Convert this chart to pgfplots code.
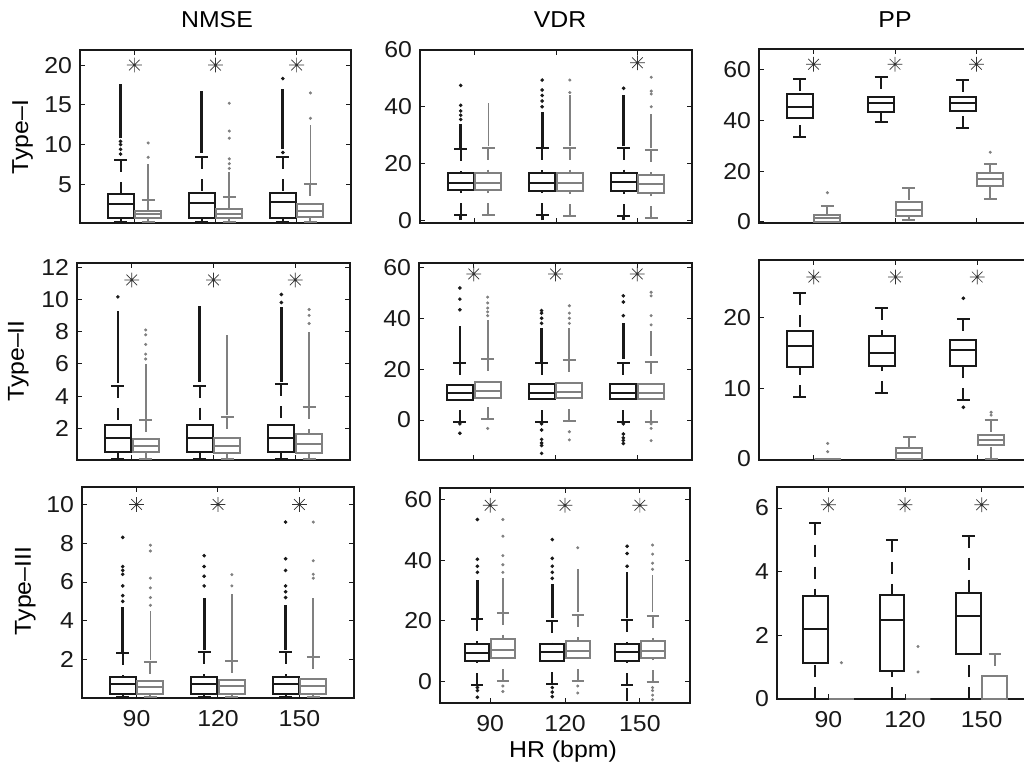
\documentclass[border=0pt]{standalone}
\usepackage{fontspec}
\setmainfont{Liberation Sans}[FakeStretch=1.08]
\usepackage{pgfplots}
\pgfplotsset{compat=1.18}
\usepgfplotslibrary{statistics}

\definecolor{bk}{RGB}{25,25,25}
\definecolor{gr}{RGB}{128,128,128}

% MATLAB style '*' marker: plus and cross together
\pgfdeclareplotmark{ast8}{%
  \pgfpathmoveto{\pgfqpoint{0pt}{-\pgfplotmarksize}}\pgfpathlineto{\pgfqpoint{0pt}{\pgfplotmarksize}}%
  \pgfpathmoveto{\pgfqpoint{-\pgfplotmarksize}{0pt}}\pgfpathlineto{\pgfqpoint{\pgfplotmarksize}{0pt}}%
  \pgfpathmoveto{\pgfqpoint{-0.72\pgfplotmarksize}{-0.72\pgfplotmarksize}}\pgfpathlineto{\pgfqpoint{0.72\pgfplotmarksize}{0.72\pgfplotmarksize}}%
  \pgfpathmoveto{\pgfqpoint{-0.72\pgfplotmarksize}{0.72\pgfplotmarksize}}\pgfpathlineto{\pgfqpoint{0.72\pgfplotmarksize}{-0.72\pgfplotmarksize}}%
  \pgfusepathqstroke}

\pgfplotsset{
  boxplot/draw/lower whisker/.code={%
    \draw[dash pattern=on 6pt off 5pt]
      (boxplot box cs:\pgfplotsboxplotvalue{lower whisker},0.5) --
      (boxplot box cs:\pgfplotsboxplotvalue{lower quartile},0.5);
    \draw[solid]
      (boxplot whisker cs:\pgfplotsboxplotvalue{lower whisker},0) --
      (boxplot whisker cs:\pgfplotsboxplotvalue{lower whisker},1);
  },
  boxplot/draw/upper whisker/.code={%
    \draw[dash pattern=on 6pt off 5pt]
      (boxplot box cs:\pgfplotsboxplotvalue{upper whisker},0.5) --
      (boxplot box cs:\pgfplotsboxplotvalue{upper quartile},0.5);
    \draw[solid]
      (boxplot whisker cs:\pgfplotsboxplotvalue{upper whisker},0) --
      (boxplot whisker cs:\pgfplotsboxplotvalue{upper whisker},1);
  },
  panel/.style={
    scale only axis, anchor=south west,
    xmin=0.33, xmax=3.67, xtick={1,2,3}, xticklabels={},
    tick align=inside, major tick length=2.5pt,
    axis line style={bk, line width=0.6pt},
    every tick/.style={bk, line width=0.5pt},
    tick label style={font=\fontsize{11.5}{13}\selectfont, text=bk},
    xticklabel style={yshift=-2pt},
    /pgf/number format/assume math mode=true,
    boxplot/draw direction=y,
    boxplot/box extend=0.32, boxplot/whisker extend=0.16,
  },
  bo/.style={bk, line width=1.35pt},
  go/.style={gr, line width=0.9pt},
  bd/.style={bk, only marks, mark=*, mark size=0.7pt},
  gd/.style={gr, only marks, mark=*, mark size=0.55pt},
  ast/.style={black!80, only marks, mark=ast8, mark size=3.7pt, mark options={line width=0.35pt}},
}

% \bbox{pos}{lower whisker}{q1}{median}{q3}{upper whisker}
\newcommand{\bbox}[6]{\addplot[bk, line width=1pt, boxplot prepared={draw position=#1,
  lower whisker=#2, lower quartile=#3, median=#4, upper quartile=#5, upper whisker=#6}] coordinates {};}
\newcommand{\gbox}[6]{\addplot[gr, line width=1pt, boxplot prepared={draw position=#1,
  lower whisker=#2, lower quartile=#3, median=#4, upper quartile=#5, upper whisker=#6}] coordinates {};}

\begin{document}
\fontsize{11.5}{13}\selectfont
\begin{tikzpicture}
\useasboundingbox (0,0) rectangle (512pt,383.5pt);

% ---------------- row 1 ----------------
\begin{axis}[panel, at={(40pt,272pt)}, width=135.5pt, height=86.5pt,
  ymin=0.13, ymax=21.9, ytick={5,10,15,20}]
\bbox{0.83}{0.2}{0.7}{2.5}{3.8}{8.05}
\gbox{1.17}{0.2}{0.7}{1.2}{1.7}{3.0}
\bbox{1.83}{0.2}{0.7}{2.7}{3.85}{8.4}
\gbox{2.17}{0.2}{0.7}{1.3}{1.85}{3.35}
\bbox{2.83}{0.2}{0.7}{2.75}{3.85}{8.4}
\gbox{3.17}{0.2}{0.85}{1.6}{2.5}{5.0}
\addplot[bo] coordinates {(0.83,10.8) (0.83,17.6)};
\addplot[bd] coordinates {(0.83,8.8) (0.83,9.4) (0.83,10.0) (0.83,10.4)};
\addplot[go] coordinates {(1.17,3.2) (1.17,7.5)};
\addplot[gd] coordinates {(1.17,8.4) (1.17,10.2)};
\addplot[bo] coordinates {(1.83,9.0) (1.83,16.8)};
\addplot[go] coordinates {(2.17,3.5) (2.17,6.5)};
\addplot[gd] coordinates {(2.17,7.0) (2.17,7.6) (2.17,8.2) (2.17,10.8) (2.17,11.7) (2.17,15.2)};
\addplot[bo] coordinates {(2.83,9.5) (2.83,17.0)};
\addplot[bd] coordinates {(2.83,9.0) (2.83,18.3)};
\addplot[go] coordinates {(3.17,5.2) (3.17,12.5)};
\addplot[gd] coordinates {(3.17,13.3) (3.17,16.5)};
\addplot[ast] coordinates {(1,20) (2,20) (3,20)};
\end{axis}

\begin{axis}[panel, at={(210pt,272pt)}, width=136pt, height=86.5pt,
  ymin=-1, ymax=60, ytick={0,20,40,60}]
\bbox{0.83}{1.8}{10.6}{13.2}{16.5}{25}
\gbox{1.17}{1.8}{10.6}{13.2}{16.7}{25.6}
\bbox{1.83}{1.8}{10.4}{13.2}{16.5}{25.3}
\gbox{2.17}{1.4}{10.4}{13.0}{16.5}{25.6}
\bbox{2.83}{1.4}{10.4}{13.4}{16.5}{25.6}
\gbox{3.17}{0.6}{9.6}{12.7}{15.9}{24.7}
\addplot[bo] coordinates {(0.83,25.5) (0.83,34)};
\addplot[bo] coordinates {(0.83,0) (0.83,1.4)};
\addplot[bd] coordinates {(0.83,35.5) (0.83,37) (0.83,38.5) (0.83,40.5) (0.83,47.5)};
\addplot[go] coordinates {(1.17,26) (1.17,41.2)};
\addplot[bo] coordinates {(1.83,25.8) (1.83,38)};
\addplot[bo] coordinates {(1.83,0) (1.83,1.3)};
\addplot[bd] coordinates {(1.83,40) (1.83,42) (1.83,44) (1.83,45.9) (1.83,49.4)};
\addplot[go] coordinates {(2.17,26) (2.17,44)};
\addplot[gd] coordinates {(2.17,45) (2.17,49.4)};
\addplot[bo] coordinates {(2.83,26) (2.83,44)};
\addplot[bo] coordinates {(2.83,0) (2.83,1.0)};
\addplot[bd] coordinates {(2.83,46.5)};
\addplot[go] coordinates {(3.17,25.5) (3.17,37.6)};
\addplot[gd] coordinates {(3.17,40) (3.17,44.5) (3.17,45.5) (3.17,50.4)};
\addplot[ast] coordinates {(3,55.5)};
\end{axis}

\begin{axis}[panel, at={(379.5pt,272pt)}, width=136pt, height=87pt,
  ymin=-0.4, ymax=68, ytick={0,20,40,60}]
\bbox{0.83}{33.4}{40.9}{45.1}{50.5}{56.3}
\gbox{1.17}{0}{0}{1.7}{2.9}{6.2}
\bbox{1.83}{39.2}{43.4}{46.6}{49.2}{57}
\gbox{2.17}{0.7}{2.2}{4.6}{7.7}{13.2}
\bbox{2.83}{36.9}{43.8}{46.8}{49.2}{55.7}
\gbox{3.17}{9.2}{14.1}{16.9}{19.4}{22.8}
\addplot[gd] coordinates {(1.17,11.5) (3.17,27.4)};
\addplot[ast] coordinates {(1,62) (2,62) (3,62)};
\end{axis}

% ---------------- row 2 ----------------
\begin{axis}[panel, at={(38.5pt,153.5pt)}, width=136.5pt, height=98.5pt,
  ymin=0.04, ymax=12.25, ytick={2,4,6,8,10,12}]
\bbox{0.83}{0.1}{0.54}{1.4}{2.23}{4.6}
\gbox{1.17}{0.1}{0.52}{0.9}{1.34}{2.53}
\bbox{1.83}{0.1}{0.54}{1.4}{2.19}{4.65}
\gbox{2.17}{0.1}{0.48}{0.93}{1.4}{2.68}
\bbox{2.83}{0.1}{0.54}{1.4}{2.23}{4.74}
\gbox{3.17}{0.1}{0.48}{1.05}{1.67}{3.3}
\addplot[bo] coordinates {(0.83,4.8) (0.83,9.3)};
\addplot[bd] coordinates {(0.83,10.15)};
\addplot[go] coordinates {(1.17,2.6) (1.17,6.0)};
\addplot[gd] coordinates {(1.17,6.3) (1.17,6.6) (1.17,7.2) (1.17,7.8) (1.17,8.1)};
\addplot[bo] coordinates {(1.83,4.9) (1.83,9.6)};
\addplot[go] coordinates {(2.17,2.8) (2.17,7.8)};
\addplot[bo] coordinates {(2.83,4.9) (2.83,9.5)};
\addplot[bd] coordinates {(2.83,9.8) (2.83,10.3)};
\addplot[go] coordinates {(3.17,3.4) (3.17,8.0)};
\addplot[gd] coordinates {(3.17,8.5) (3.17,9.0) (3.17,9.37)};
\addplot[ast] coordinates {(1,11.2) (2,11.2) (3,11.2)};
\end{axis}

\begin{axis}[panel, at={(209.5pt,153.5pt)}, width=136.5pt, height=98.5pt,
  ymin=-15.7, ymax=61.7, ytick={0,20,40,60}]
\bbox{0.83}{-0.7}{7.9}{10.5}{13.8}{22.3}
\gbox{1.17}{0.3}{8.8}{11.6}{15.1}{23.9}
\bbox{1.83}{-0.7}{8.2}{10.5}{14.2}{22.3}
\gbox{2.17}{-0.2}{8.6}{11.2}{14.7}{23.6}
\bbox{2.83}{-0.7}{8.2}{10.8}{14.2}{22.6}
\gbox{3.17}{-0.7}{8.2}{10.8}{14.2}{22.7}
\addplot[bo] coordinates {(0.83,23) (0.83,37)};
\addplot[bd] coordinates {(0.83,43.3) (0.83,47.5) (0.83,51.9) (0.83,-1.5) (0.83,-5.2)};
\addplot[go] coordinates {(1.17,24) (1.17,39.4)};
\addplot[gd] coordinates {(1.17,41) (1.17,42.5) (1.17,44) (1.17,46) (1.17,48.3) (1.17,-3.3)};
\addplot[bo] coordinates {(1.83,23) (1.83,36)};
\addplot[bd] coordinates {(1.83,38) (1.83,40) (1.83,42) (1.83,43) (1.83,-1.5) (1.83,-3.9) (1.83,-7.6) (1.83,-9) (1.83,-10) (1.83,-13.1)};
\addplot[go] coordinates {(2.17,24) (2.17,36)};
\addplot[gd] coordinates {(2.17,38) (2.17,40) (2.17,42) (2.17,44.9) (2.17,-4.6) (2.17,-7.8)};
\addplot[bo] coordinates {(2.83,24) (2.83,38)};
\addplot[bd] coordinates {(2.83,41) (2.83,46.4) (2.83,48.8) (2.83,-1.5) (2.83,-5.5) (2.83,-7) (2.83,-8) (2.83,-9.2)};
\addplot[go] coordinates {(3.17,25) (3.17,35)};
\addplot[gd] coordinates {(3.17,37.4) (3.17,41) (3.17,48.8) (3.17,50.2) (3.17,-1.5) (3.17,-3.3) (3.17,-8.1)};
\addplot[ast] coordinates {(1,57.4) (2,57.4) (3,57.4)};
\end{axis}

\begin{axis}[panel, at={(379.5pt,153.5pt)}, width=136.5pt, height=100pt,
  ymin=-0.14, ymax=28.1, ytick={0,10,20}]
\bbox{0.83}{8.8}{13.05}{15.9}{18.1}{23.4}
\gbox{1.17}{0}{0}{0}{0}{0}
\bbox{1.83}{9.3}{13.2}{15.0}{17.3}{21.3}
\gbox{2.17}{0}{0}{0.8}{1.6}{3.1}
\bbox{2.83}{8.3}{13.2}{15.4}{16.8}{19.8}
\gbox{3.17}{0}{2.0}{2.7}{3.4}{5.5}
\addplot[gd] coordinates {(1.17,1.03) (1.17,2.2) (3.17,6.2) (3.17,6.6)};
\addplot[bd] coordinates {(2.83,22.7) (2.83,7.3)};
\addplot[ast] coordinates {(1,25.7) (2,25.7) (3,25.7)};
\end{axis}

% ---------------- row 3 ----------------
\begin{axis}[panel, at={(41pt,34.5pt)}, width=136pt, height=105.5pt,
  ymin=0.02, ymax=10.9, ytick={2,4,6,8,10}, xticklabels={90,120,150}]
\bbox{0.83}{0.05}{0.25}{0.73}{1.08}{2.32}
\gbox{1.17}{0.05}{0.25}{0.6}{0.9}{1.89}
\bbox{1.83}{0.05}{0.25}{0.73}{1.11}{2.37}
\gbox{2.17}{0.05}{0.25}{0.65}{0.94}{1.94}
\bbox{2.83}{0.05}{0.25}{0.73}{1.11}{2.37}
\gbox{3.17}{0.05}{0.25}{0.65}{0.99}{2.11}
\addplot[bo] coordinates {(0.83,2.4) (0.83,4.7)};
\addplot[bd] coordinates {(0.83,5.0) (0.83,5.3) (0.83,5.8) (0.83,6.4) (0.83,6.6) (0.83,6.8) (0.83,8.3)};
\addplot[go] coordinates {(1.17,2.0) (1.17,4.5)};
\addplot[gd] coordinates {(1.17,4.8) (1.17,5.2) (1.17,5.7) (1.17,6.2) (1.17,7.6) (1.17,7.9)};
\addplot[bo] coordinates {(1.83,2.5) (1.83,5.2)};
\addplot[bd] coordinates {(1.83,5.8) (1.83,6.3) (1.83,6.8) (1.83,7.36)};
\addplot[go] coordinates {(2.17,2.0) (2.17,5.4)};
\addplot[gd] coordinates {(2.17,5.8) (2.17,6.38)};
\addplot[bo] coordinates {(2.83,2.5) (2.83,4.8)};
\addplot[bd] coordinates {(2.83,5.2) (2.83,5.5) (2.83,5.8) (2.83,6.6) (2.83,7.2) (2.83,9.09)};
\addplot[go] coordinates {(3.17,2.2) (3.17,5.2)};
\addplot[gd] coordinates {(3.17,6.2) (3.17,6.4) (3.17,7.1) (3.17,9.09)};
\addplot[ast] coordinates {(1,10) (2,10) (3,10)};
\end{axis}

\begin{axis}[panel, at={(220pt,32pt)}, width=125pt, height=107.5pt,
  ymin=-7.1, ymax=63.8, ytick={0,20,40,60}, xticklabels={90,120,150}]
\bbox{0.83}{-1.1}{6.8}{9.3}{12.3}{20.6}
\gbox{1.17}{0}{7.9}{10.4}{14}{22.7}
\bbox{1.83}{-0.8}{6.8}{9.6}{12.3}{20.1}
\gbox{2.17}{0}{7.7}{10.2}{13.5}{21.9}
\bbox{2.83}{-1.1}{6.8}{9.6}{12.4}{20.3}
\gbox{3.17}{-0.3}{7.7}{10.1}{13.4}{21.6}
\addplot[bo] coordinates {(0.83,21) (0.83,33.5)};
\addplot[bd] coordinates {(0.83,36) (0.83,38) (0.83,40.3) (0.83,53.4) (0.83,-2) (0.83,-3) (0.83,-5.2)};
\addplot[go] coordinates {(1.17,23) (1.17,34)};
\addplot[gd] coordinates {(1.17,36) (1.17,38.5) (1.17,41.5) (1.17,47.9) (1.17,53.4) (1.17,-1.5) (1.17,-3.3)};
\addplot[bo] coordinates {(1.83,21) (1.83,32)};
\addplot[bd] coordinates {(1.83,34) (1.83,36) (1.83,38) (1.83,40.6) (1.83,46.8) (1.83,-2) (1.83,-3.5) (1.83,-5)};
\addplot[go] coordinates {(2.17,23) (2.17,37)};
\addplot[gd] coordinates {(2.17,44.1) (2.17,-1.5) (2.17,-3.8)};
\addplot[bo] coordinates {(2.83,21) (2.83,36)};
\addplot[bo] coordinates {(2.83,-6.5) (2.83,-2)};
\addplot[bd] coordinates {(2.83,38) (2.83,42.2) (2.83,44.6)};
\addplot[go] coordinates {(3.17,23) (3.17,35)};
\addplot[gd] coordinates {(3.17,37) (3.17,39) (3.17,42) (3.17,45) (3.17,-2) (3.17,-3) (3.17,-4.5) (3.17,-6)};
\addplot[ast] coordinates {(1,58.1) (2,58.1) (3,58.1)};
\end{axis}

\begin{axis}[panel, at={(388.5pt,34pt)}, width=128pt, height=106pt,
  ymin=0, ymax=6.66, ytick={0,2,4,6}, xticklabels={90,120,150}]
\bbox{0.83}{0}{1.14}{2.2}{3.24}{5.54}
\gbox{1.17}{0}{0}{0}{0}{0}
\bbox{1.83}{0}{0.88}{2.49}{3.27}{5.0}
\gbox{2.17}{0}{0}{0}{0}{0}
\bbox{2.83}{0}{1.4}{2.61}{3.34}{5.13}
\gbox{3.17}{0}{0}{0}{0.71}{1.42}
\addplot[gd] coordinates {(1.17,1.14) (2.17,0.85) (2.17,1.65)};
\addplot[ast] coordinates {(1,6.1) (2,6.1) (3,6.1)};
\end{axis}

% labels
\node[anchor=base] at (108.5pt,369.5pt) {NMSE};
\node[anchor=base] at (280pt,369.5pt) {VDR};
\node[anchor=base] at (447.5pt,369.5pt) {PP};
\node[anchor=base, rotate=90] at (14pt,315pt) {Type–I};
\node[anchor=base, rotate=90] at (12pt,203pt) {Type–II};
\node[anchor=base, rotate=90] at (15.5pt,88pt) {Type–III};
\node[anchor=base] at (281.5pt,5pt) {HR (bpm)};
\end{tikzpicture}
\end{document}
